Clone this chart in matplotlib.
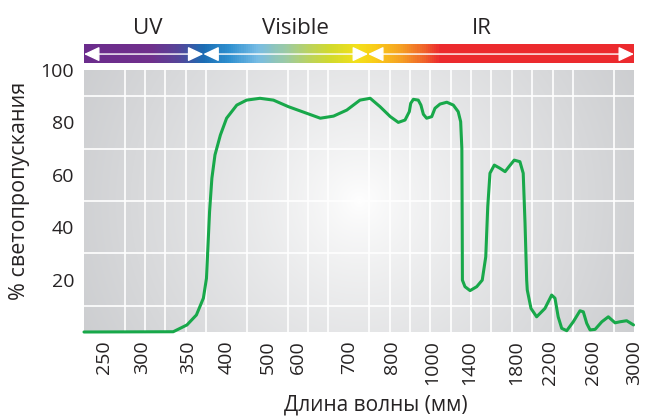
# SPECTRAL TRANSMISSION CURVE

import numpy as np
import matplotlib
matplotlib.use('Agg')
import matplotlib.pyplot as plt
from matplotlib.colors import LinearSegmentedColormap

plt.rcParams['font.family'] = ['Open Sans', 'DejaVu Sans']


# DATA

tick_nm = [250, 300, 350, 400, 500, 600, 700, 800, 1000, 1400, 1800, 2200, 2600, 3000]

curve_nm = [225, 334, 349, 361, 370, 374, 376, 378, 381, 385,
            392, 400, 425, 449, 482, 520, 569, 617, 644, 670,
            696, 726, 750, 773, 797, 833, 866, 887, 894, 907,
            931, 944, 956, 972, 997, 1029, 1084, 1158, 1229, 1282,
            1309, 1322, 1326, 1328, 1356, 1409, 1466, 1513, 1543, 1560,
            1579, 1616, 1664, 1708, 1741, 1786, 1847, 1885, 1906, 1925,
            1932, 1975, 2040, 2136, 2211, 2242, 2272, 2305, 2352, 2413,
            2476, 2507, 2539, 2570, 2618, 2684, 2748, 2814, 2862, 2928,
            2995]
curve_pct = [0, 0.1, 2.7, 6.5, 12.9, 20.5, 33.2, 45.9, 58.7, 67.6,
             75.2, 81.6, 86.6, 88.5, 89.2, 88.5, 86, 83.5, 81.6, 82.4,
             84.7, 88.5, 89.2, 86, 82.2, 80, 80.9, 84.1, 87.3, 88.8,
             88.5, 86.6, 83.1, 81.6, 82.2, 85.4, 87, 87.7, 86.6, 84.1,
             80.3, 70, 40, 19.8, 17.3, 15.8, 17.3, 19.8, 28.7, 47.8,
             60.6, 63.7, 62.5, 61.2, 63.1, 65.6, 65, 60.6, 41.5, 19.8,
             16, 9, 5.8, 9, 14.1, 12.9, 5.8, 1.4, 0.5, 3.9,
             8.1, 7.7, 3.3, 0.8, 1, 3.9, 5.8, 3.5, 3.9, 4.3,
             2.7]

band_names = ['UV', 'Visible', 'IR']
band_edges_nm = [225, 370, 745, 3000]


# NON-UNIFORM WAVELENGTH AXIS (wavelength -> grid column)

axis_nm = [225] + tick_nm
axis_col = [0, 1.0, 2.85, 5.1, 7.0, 9.0, 10.5, 13.0, 15.1, 17.1, 18.9, 21.2, 22.9, 25.0, 27.0]


def fwd(x):
    return np.interp(x, axis_nm, axis_col)


def inv(c):
    return np.interp(c, axis_col, axis_nm)


text_color = '#262324'
W, H = 645, 417

fig = plt.figure(figsize=(6.45, 4.17), dpi=100)
ax = fig.add_axes([84 / W, 1 - 332 / H, 550 / W, 262 / H])
ax.set_xscale('function', functions=(fwd, inv))

# radial gray background
xx, yy = np.meshgrid(np.arange(550), np.arange(262))
d = np.hypot(xx - 275, yy - 131) / 310
t = np.clip(d, 0, 1) ** 0.8
gray = np.array([0.80, 0.805, 0.815])
img = 1 - t[..., None] * (1 - gray)
ax.imshow(img, extent=[0, 1, 0, 1], transform=ax.transAxes, aspect='auto', zorder=0)

ax.plot(curve_nm, curve_pct, color='#18a84a', lw=2.2, solid_joinstyle='round',
        solid_capstyle='round', zorder=3, clip_on=False)

ax.set_xlim(225, 3000)
ax.set_ylim(0, 100)
ax.set_xticks(tick_nm)
ax.set_xticklabels([str(v) for v in tick_nm], rotation=90)
ax.set_xticks(inv(np.arange(1, 27)), minor=True)
ax.set_yticks([20, 40, 60, 80, 100])
ax.set_yticks(np.arange(10, 100, 10), minor=True)
ax.grid(which='minor', color='white', lw=1.2, zorder=1)
ax.grid(which='major', visible=False)
ax.set_axisbelow(True)
ax.tick_params(which='both', length=0, labelsize=14, colors=text_color)
ax.tick_params(axis='y', pad=7)
ax.tick_params(axis='x', pad=6)
for s in ax.spines.values():
    s.set_visible(False)

fig.text(20 / W, 1 - 191 / H, '% светопропускания', rotation=90, ha='center',
         va='center', fontsize=15.5, color=text_color)
fig.text(376 / W, 1 - 405 / H, 'Длина волны (мм)', ha='center', va='center',
         fontsize=15, color=text_color)


# SPECTRUM BAR

bar = fig.add_axes([84 / W, 1 - 63 / H, 550 / W, 19 / H], sharex=ax)
stops = [(0.0, '#6b2c8c'), (0.12, '#70308c'), (0.171, '#54469a'), (0.216, '#1b6db4'),
         (0.262, '#2f90d0'), (0.315, '#77bce4'), (0.365, '#9ccaa4'), (0.411, '#bdd35a'),
         (0.447, '#d2da2c'), (0.496, '#f3e01b'), (0.529, '#f9cc18'), (0.575, '#f5a024'),
         (0.62, '#f0602b'), (0.647, '#ec2a2e'), (1.0, '#ec2a2e')]
spec_cmap = LinearSegmentedColormap.from_list('spec', stops)
cols = np.linspace(0, 27, 541)
bar.pcolormesh(inv(cols), [0, 1], (cols[:-1] / 27)[None, :], cmap=spec_cmap,
               vmin=0, vmax=1, shading='flat', antialiased=False, edgecolors='none')
bar.set_ylim(0, 1)
for a, b in zip(band_edges_nm[:-1], band_edges_nm[1:]):
    bar.annotate('', xy=(b, 0.47), xytext=(a, 0.47),
                 arrowprops=dict(arrowstyle='<|-|>,head_length=0.95,head_width=0.45',
                                 color='white', lw=1.0, mutation_scale=10,
                                 shrinkA=0, shrinkB=0))
bar.axis('off')

for name, xpix in zip(band_names, [148, 295, 482]):
    fig.text(xpix / W, 1 - 34 / H, name, ha='center', va='baseline', fontsize=16,
             color=text_color)

plt.savefig('out.png', dpi=100)
